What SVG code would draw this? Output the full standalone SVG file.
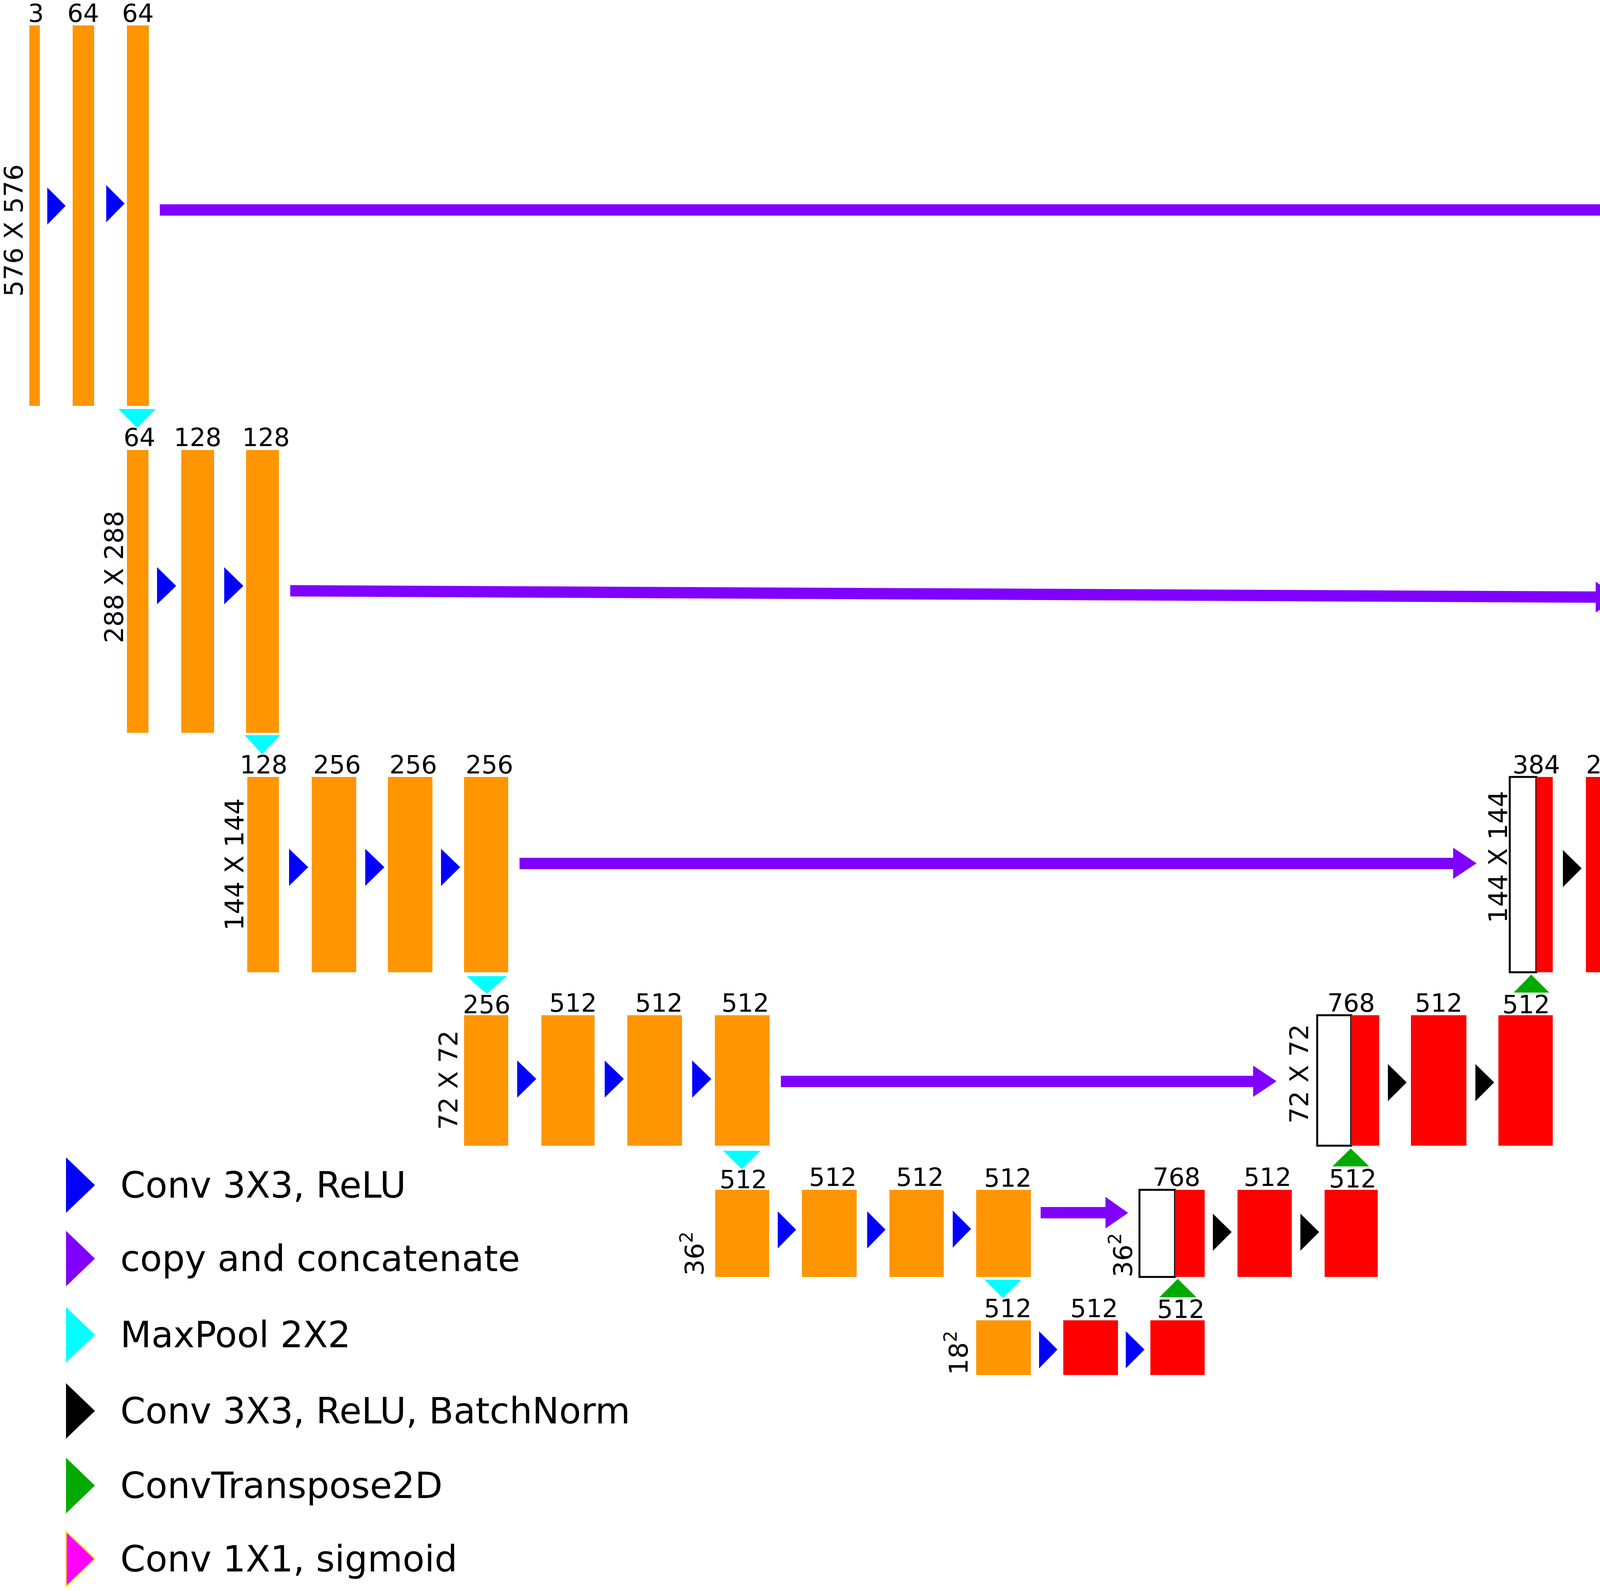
<svg xmlns="http://www.w3.org/2000/svg" width="5089" height="4073" viewBox="0 0 5089 4073">
<style>
text{font-family:"DejaVu Sans",sans-serif;font-size:64px;fill:#000}
.c{text-anchor:middle}
.v{font-size:66px;text-anchor:middle}
.lg{font-size:92px}
.o{fill:#ff9500}
.r{fill:#ff0000}
.w{fill:#fff;stroke:#000;stroke-width:5}
.b{fill:#0000ff}
.k{fill:#000}
.p{fill:#8000ff}
.cy{fill:#00ffff}
.g{fill:#00aa00}
.m{fill:#ff00ff;stroke:#ffff00;stroke-width:3}
</style>
<rect width="5089" height="4073" fill="#fff"/>
<g id="level1">
<rect class="o" x="75" y="65" width="27" height="974"/>
<rect class="o" x="186" y="65" width="55" height="974"/>
<rect class="o" x="325" y="65" width="56" height="974"/>
<text class="c" x="92" y="56">3</text><text class="c" x="213" y="56">64</text><text class="c" x="353" y="56">64</text>
<text class="v" transform="translate(58,590) rotate(-90)">576 X 576</text>
<rect class="w" x="4645" y="65" width="29" height="974"/>
<rect class="r" x="4674" y="65" width="27" height="974"/>
<rect class="r" x="4785" y="65" width="56" height="974"/>
<rect class="r" x="4924" y="65" width="56" height="974"/>
<rect class="r" x="5064" y="65" width="14" height="974"/>
<text class="c" x="4678" y="56">96</text><text class="c" x="4813" y="56">64</text><text class="c" x="4952" y="56">64</text><text x="5060" y="56">1</text>
<text class="v" transform="translate(4628,478) rotate(-90)">576 X 576</text>
</g>
<g id="level2">
<rect class="o" x="325" y="1152" width="55" height="724"/>
<rect class="o" x="464" y="1152" width="84" height="724"/>
<rect class="o" x="630" y="1152" width="84" height="724"/>
<text class="c" x="357" y="1142">64</text><text class="c" x="506" y="1142">128</text><text class="c" x="681" y="1142">128</text>
<text class="v" transform="translate(315,1477) rotate(-90)">288 X 288</text>
<rect class="w" x="4254" y="1152" width="68" height="724"/>
<rect class="r" x="4322" y="1152" width="46" height="724"/>
<rect class="r" x="4449" y="1152" width="84" height="724"/>
<rect class="r" x="4618" y="1152" width="84" height="724"/>
<text class="c" x="4319" y="1136">192</text><text class="c" x="4501" y="1146">128</text><text class="c" x="4663" y="1146">128</text>
<text class="v" transform="translate(4238,1477) rotate(-90)">288 X 288</text>
</g>
<g id="level3">
<rect class="o" x="633" y="1989" width="81" height="500"/>
<rect class="o" x="798" y="1989" width="114" height="500"/>
<rect class="o" x="993" y="1989" width="114" height="500"/>
<rect class="o" x="1188" y="1989" width="113" height="500"/>
<text class="c" x="675" y="1980">128</text><text class="c" x="863" y="1980">256</text><text class="c" x="1058" y="1980">256</text><text class="c" x="1253" y="1980">256</text>
<text class="v" transform="translate(623,2213) rotate(-90)">144 X 144</text>
<rect class="w" x="3865" y="1989" width="68" height="500"/>
<rect class="r" x="3933" y="1989" width="42" height="500"/>
<rect class="r" x="4060" y="1989" width="113" height="500"/>
<rect class="r" x="4254" y="1989" width="114" height="500"/>
<text class="c" x="3933" y="1980">384</text><text class="c" x="4121" y="1980">256</text><text class="c" x="4316" y="1984">256</text>
<text class="v" transform="translate(3858,2194) rotate(-90)">144 X 144</text>
</g>
<g id="level4">
<rect class="o" x="1188" y="2599" width="113" height="334"/>
<rect class="o" x="1386" y="2599" width="136" height="334"/>
<rect class="o" x="1606" y="2599" width="140" height="334"/>
<rect class="o" x="1830" y="2599" width="140" height="334"/>
<text class="c" x="1246" y="2594">256</text><text class="c" x="1467" y="2590">512</text><text class="c" x="1687" y="2590">512</text><text class="c" x="1908" y="2590">512</text>
<text class="v" transform="translate(1171,2765) rotate(-90)">72 X 72</text>
<rect class="w" x="3372" y="2599" width="87" height="334"/>
<rect class="r" x="3459" y="2599" width="72" height="334"/>
<rect class="r" x="3612" y="2599" width="142" height="334"/>
<rect class="r" x="3836" y="2599" width="139" height="334"/>
<text class="c" x="3459" y="2590">768</text><text class="c" x="3683" y="2590">512</text><text class="c" x="3907" y="2594">512</text>
<text class="v" transform="translate(3349,2749) rotate(-90)">72 X 72</text>
</g>
<g id="level5">
<rect class="o" x="1831" y="3046" width="138" height="223"/>
<rect class="o" x="2053" y="3046" width="140" height="223"/>
<rect class="o" x="2277" y="3046" width="139" height="223"/>
<rect class="o" x="2499" y="3046" width="140" height="223"/>
<text class="c" x="1903" y="3042">512</text><text class="c" x="2132" y="3036">512</text><text class="c" x="2355" y="3036">512</text><text class="c" x="2580" y="3038">512</text>
<text class="v" style="text-anchor:start" transform="translate(1801,3266) rotate(-90)">36<tspan font-size="46" dy="-28">2</tspan></text>
<rect class="w" x="2917" y="3046" width="91" height="223"/>
<rect class="r" x="3008" y="3046" width="76" height="223"/>
<rect class="r" x="3168" y="3046" width="139" height="223"/>
<rect class="r" x="3391" y="3046" width="136" height="223"/>
<text class="c" x="3012" y="3036">768</text><text class="c" x="3245" y="3036">512</text><text class="c" x="3463" y="3040">512</text>
<text class="v" style="text-anchor:start" transform="translate(2898,3270) rotate(-90)">36<tspan font-size="46" dy="-28">2</tspan></text>
</g>
<g id="level6">
<rect class="o" x="2499" y="3380" width="140" height="140"/>
<rect class="r" x="2722" y="3380" width="140" height="140"/>
<rect class="r" x="2945" y="3380" width="139" height="140"/>
<text class="c" x="2580" y="3372">512</text><text class="c" x="2801" y="3372">512</text><text class="c" x="3023" y="3374">512</text>
<text class="v" style="text-anchor:start" transform="translate(2477,3520) rotate(-90)">18<tspan font-size="46" dy="-28">2</tspan></text>
</g>
<g id="connectors">
<polygon class="p" points="409,523 4500,523 4500,497 4560,537 4500,578 4500,552 409,552"/>
<polygon class="p" points="743,1498 4085,1514 4085,1489 4144,1530 4085,1568 4085,1543 743,1527"/>
<polygon class="p" points="1330,2196 3720,2196 3720,2170 3780,2210 3720,2250 3720,2225 1330,2225"/>
<polygon class="p" points="1999,2754 3208,2754 3208,2728 3268,2768 3208,2808 3208,2783 1999,2783"/>
<polygon class="p" points="2664,3090 2830,3090 2830,3064 2888,3105 2830,3145 2830,3119 2664,3119"/>
<polygon class="b" points="121,480 168,527 121,575"/>
<polygon class="b" points="272,474 319,521 272,569"/>
<polygon class="b" points="402,1452 451,1500 402,1547"/>
<polygon class="b" points="574,1452 623,1500 574,1547"/>
<polygon class="b" points="740,2173 789,2220 740,2268"/>
<polygon class="b" points="935,2173 984,2220 935,2268"/>
<polygon class="b" points="1129,2173 1178,2220 1129,2268"/>
<polygon class="b" points="1324,2715 1373,2762 1324,2810"/>
<polygon class="b" points="1548,2715 1597,2762 1548,2810"/>
<polygon class="b" points="1772,2715 1821,2762 1772,2810"/>
<polygon class="b" points="1991,3101 2038,3148 1991,3196"/>
<polygon class="b" points="2220,3101 2267,3148 2220,3196"/>
<polygon class="b" points="2439,3099 2486,3146 2439,3194"/>
<polygon class="b" points="2660,3408 2707,3455 2660,3503"/>
<polygon class="b" points="2882,3408 2930,3455 2882,3503"/>
<polygon class="k" points="4719,482 4767,529 4719,577"/>
<polygon class="k" points="4867,477 4915,524 4867,571"/>
<polygon class="m" points="5008,482 5054,526 5008,570"/>
<polygon class="k" points="4394,1478 4442,1525 4394,1573"/>
<polygon class="k" points="4562,1478 4610,1525 4562,1573"/>
<polygon class="k" points="4001,2176 4049,2223 4001,2271"/>
<polygon class="k" points="4196,2176 4244,2223 4196,2271"/>
<polygon class="k" points="3553,2724 3601,2771 3553,2819"/>
<polygon class="k" points="3777,2724 3825,2771 3777,2819"/>
<polygon class="k" points="3105,3107 3153,3154 3105,3202"/>
<polygon class="k" points="3329,3107 3377,3154 3329,3202"/>
<polygon class="cy" points="303,1047 399,1047 351,1095"/>
<polygon class="cy" points="626,1882 717,1882 671,1931"/>
<polygon class="cy" points="1194,2499 1298,2499 1246,2544"/>
<polygon class="cy" points="1851,2946 1947,2946 1899,2993"/>
<polygon class="cy" points="2520,3276 2615,3276 2567,3323"/>
<polygon class="g" points="4622,1090 4718,1090 4670,1043"/>
<polygon class="g" points="4277,1934 4368,1934 4322,1886"/>
<polygon class="g" points="3875,2541 3966,2541 3920,2495"/>
<polygon class="g" points="3411,2986 3505,2986 3458,2940"/>
<polygon class="g" points="2968,3321 3063,3321 3015,3274"/>
</g>
<g id="legend">
<polygon class="b" points="169,2963 243,3034 169,3105"/><text class="lg" x="308" y="3066">Conv 3X3, ReLU</text>
<polygon class="p" points="169,3151 243,3222 169,3293"/><text class="lg" x="308" y="3254">copy and concatenate</text>
<polygon class="cy" points="169,3346 243,3417 169,3488"/><text class="lg" x="308" y="3449">MaxPool 2X2</text>
<polygon class="k" points="169,3541 243,3612 169,3683"/><text class="lg" x="308" y="3644">Conv 3X3, ReLU, BatchNorm</text>
<polygon class="g" points="169,3732 243,3803 169,3874"/><text class="lg" x="308" y="3835">ConvTranspose2D</text>
<polygon class="m" points="169,3920 243,3991 169,4062"/><text class="lg" x="308" y="4023">Conv 1X1, sigmoid</text>
</g>
</svg>
